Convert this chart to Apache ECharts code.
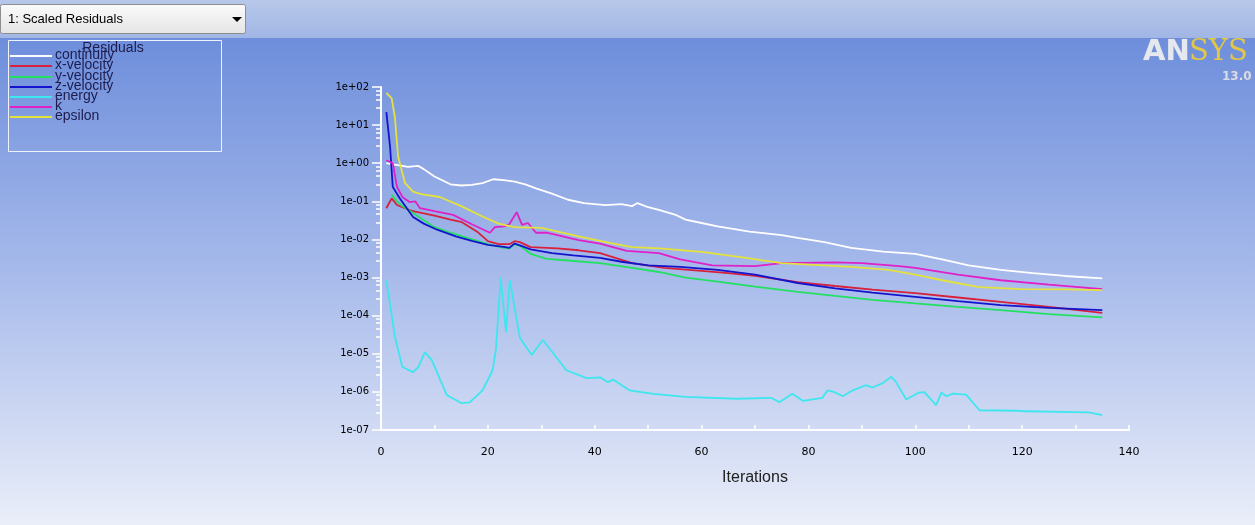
<!DOCTYPE html>
<html>
	<head>
		<meta charset="utf-8">
		<title>Scaled Residuals</title>
		<script src="https://cdn.jsdelivr.net/npm/echarts@6/dist/echarts.min.js"></script>
		<style>
			html,body{margin:0;padding:0;overflow:hidden;}
			#x{width:1255px;height:525px;}
		</style>
	</head>
	<body>
		<div id="x"></div>
	</body>

	<script type="text/javascript">
		// residual histories, [iteration, residual]
		var names=['continuity','x-velocity','y-velocity','z-velocity','energy','k','epsilon'];
		var colors=['#ffffff','#d8203c','#22e060','#1414cc','#3ee6ee','#e020c8','#e4e23c'];

		var continuity=[[1,1.0],[2,0.95],[4,0.85],[5,0.8],[7,0.85],[8,0.7],[10,0.45],[13,0.28],[15,0.26],[17,0.27],[19,0.3],[21,0.38],[23,0.36],[25,0.33],[27,0.28],[29,0.22],[32,0.16],[35,0.11],[38,0.09],[42,0.08],[45,0.085],[47,0.075],[48,0.09],[50,0.07],[52,0.06],[55,0.045],[57,0.033],[60,0.027],[63,0.022],[69,0.016],[75,0.013],[78,0.011],[83,0.0085],[88,0.006],[94,0.0048],[100,0.0042],[105,0.003],[110,0.0021],[116,0.0016],[122,0.0013],[128,0.0011],[135,0.00095]];
		var xVelocity=[[1,0.066],[2,0.12],[3,0.08],[4,0.07],[6,0.055],[10,0.042],[13,0.033],[15,0.029],[18,0.016],[20,0.009],[22,0.0075],[24,0.0075],[25,0.009],[26,0.0085],[28,0.0063],[33,0.0058],[37,0.0052],[41,0.0044],[47,0.0024],[53,0.0018],[60,0.0015],[65,0.0013],[70,0.0011],[78,0.00076],[85,0.0006],[92,0.00048],[100,0.00039],[108,0.0003],[116,0.00023],[125,0.00017],[135,0.000118]];
		var yVelocity=[[2,0.15],[3,0.1],[4,0.075],[5.5,0.055],[8,0.032],[10,0.021],[13,0.015],[17,0.01],[20,0.0075],[23,0.006],[24,0.0058],[25,0.0075],[26,0.0068],[28,0.0042],[31,0.0031],[35,0.0028],[41,0.0024],[47,0.0018],[52,0.0014],[57,0.001],[63,0.00078],[70,0.00058],[78,0.00042],[85,0.00033],[92,0.00026],[100,0.00021],[108,0.00017],[116,0.00014],[125,0.00011],[135,0.00009]];
		var zVelocity=[[1,22],[1.7,2.7],[2.2,0.24],[3.5,0.12],[6,0.039],[8,0.026],[10.5,0.018],[14,0.012],[17,0.0092],[20,0.0072],[23,0.0064],[24,0.006],[25,0.0078],[26,0.007],[28,0.0055],[32,0.0044],[36,0.0038],[41,0.0033],[45,0.0026],[50,0.0021],[56,0.0019],[63,0.0016],[70,0.0012],[78,0.00072],[85,0.00052],[92,0.0004],[100,0.00031],[108,0.00024],[116,0.00019],[125,0.00016],[135,0.00014]];
		var energy=[[1,0.00085],[2.6,0.000028],[4,0.0000045],[6,0.0000033],[7,0.0000045],[8.2,0.000011],[9.5,0.0000068],[12.3,0.00000083],[15,0.00000051],[16.6,0.00000053],[19,0.0000011],[20.9,0.0000037],[21.5,0.0000126],[22.4,0.001],[23.4,0.000037],[24.1,0.00085],[26,0.000026],[28.2,0.0000093],[30.3,0.000023],[34.7,0.0000037],[38.5,0.0000023],[41,0.0000024],[42.5,0.0000018],[43.4,0.0000021],[46.5,0.0000011],[51,0.00000089],[57,0.00000074],[66.5,0.00000066],[73,0.0000007],[74.6,0.00000054],[77,0.0000009],[79,0.00000058],[82.6,0.0000007],[83.6,0.0000011],[84.9,0.00000098],[86.4,0.00000077],[88.3,0.0000011],[90.8,0.0000015],[92,0.0000013],[93.9,0.0000017],[95.5,0.0000025],[96.4,0.0000018],[98.3,0.00000063],[100.7,0.00000096],[101.7,0.00000098],[103.9,0.00000045],[104.9,0.00000096],[105.8,0.00000077],[107,0.0000009],[109.5,0.00000085],[112,0.00000033],[118.9,0.00000032],[120.7,0.00000031],[132.5,0.00000029],[135,0.000000245]];
		var k=[[1,1.2],[2.2,1.0],[3,0.24],[4,0.13],[5.4,0.095],[6.4,0.1],[7.3,0.066],[10,0.055],[13.5,0.044],[17,0.025],[20.4,0.015],[21.3,0.021],[23,0.022],[24,0.025],[25.4,0.052],[26.4,0.024],[27.5,0.027],[29,0.015],[31,0.015],[37,0.0096],[41,0.0078],[46,0.005],[52,0.0044],[56,0.003],[62,0.0021],[70,0.002],[75,0.0024],[85,0.0025],[90,0.0024],[97,0.002],[100,0.0018],[108,0.0012],[116,0.00085],[125,0.00065],[135,0.0005]];
		var epsilon=[[1,70],[2,50],[2.6,16],[3.2,1.5],[4.5,0.3],[6,0.18],[7.5,0.155],[11,0.13],[15,0.075],[19,0.04],[22,0.026],[25,0.021],[30,0.02],[37,0.012],[43,0.008],[47,0.0063],[52,0.0058],[60,0.0047],[67,0.0035],[75,0.0024],[88,0.0019],[95,0.0016],[100,0.0012],[106,0.0008],[112,0.00056],[120,0.0005],[128,0.00049],[135,0.00047]];
		var seriesData=[continuity,xVelocity,yVelocity,zVelocity,energy,k,epsilon];

		var xTicks=[0,140,20];       // min, max, step
		var yRange=[1e-7,1e2];

		function expLabel(v){
			var e=Math.round(Math.log10(v));
			var s=e<0?'-':'+';
			var a=Math.abs(e);
			return '1e'+s+(a<10?'0'+a:a);
		}

		var series=[];
		for(var i=0;i<names.length;i++){
			series.push({
				name:names[i],
				type:'line',
				showSymbol:false,
				animation:false,
				lineStyle:{width:1.8,color:colors[i]},
				data:seriesData[i]
			});
		}

		// legend box drawn by hand so the labels can overlap like the original
		var legendItems=[];
		legendItems.push({type:'rect',shape:{x:8.5,y:40.5,width:213,height:111},style:{fill:'rgba(0,0,0,0)',stroke:'#eef2fa',lineWidth:1}});
		legendItems.push({type:'text',x:113,y:48,style:{text:'Residuals',fill:'#1c1c4e',font:'14px "Liberation Sans"',align:'center',verticalAlign:'middle'}});
		var ly=[56,66,77,87,97,107,117];
		for(var j=0;j<names.length;j++){
			legendItems.push({type:'line',shape:{x1:10,y1:ly[j],x2:52,y2:ly[j]},style:{stroke:colors[j],lineWidth:2}});
			legendItems.push({type:'text',x:55,y:ly[j]-1,style:{text:names[j],fill:'#1c1c4e',font:'14px "Liberation Sans"',verticalAlign:'middle'}});
		}

		var option={
			backgroundColor:{
				type:'linear',x:0,y:0,x2:0,y2:1,
				colorStops:[{offset:0,color:'#6c8bdb'},{offset:0.08,color:'#6f8fdc'},{offset:0.5,color:'#a4b8ea'},{offset:1,color:'#eaeef9'}]
			},
			animation:false,
			grid:{left:381,right:126,top:87,bottom:95},
			xAxis:{
				type:'value',
				min:xTicks[0],max:xTicks[1],interval:xTicks[2],
				name:'Iterations',nameLocation:'middle',nameGap:40,
				nameTextStyle:{color:'#222',fontSize:16,fontFamily:'Liberation Sans'},
				axisLine:{lineStyle:{color:'#ffffff',width:2}},
				axisTick:{inside:true,length:5,lineStyle:{color:'#ffffff',width:1.5}},
				minorTick:{show:true,splitNumber:2,length:5,lineStyle:{color:'#ffffff',width:1.5}},
				axisLabel:{color:'#000',fontSize:11,fontFamily:'DejaVu Sans',margin:17},
				splitLine:{show:false}
			},
			yAxis:{
				type:'log',logBase:10,
				min:yRange[0],max:yRange[1],
				axisLine:{show:true,lineStyle:{color:'#ffffff',width:2}},
				axisTick:{show:true,length:9,lineStyle:{color:'#ffffff',width:1.5}},
				minorTick:{show:true,splitNumber:5,length:5,lineStyle:{color:'#ffffff',width:1.5}},
				axisLabel:{color:'#000',fontSize:10,fontFamily:'DejaVu Sans',margin:12,formatter:expLabel},
				splitLine:{show:false}
			},
			graphic:[
				// top strip and selector
				{type:'rect',shape:{x:0,y:0,width:1255,height:38},style:{fill:{type:'linear',x:0,y:0,x2:0,y2:1,colorStops:[{offset:0,color:'#b8c8ea'},{offset:1,color:'#a0b6e4'}]}},z:0},
				{type:'rect',shape:{x:0.5,y:4.5,width:245,height:29,r:2},style:{fill:{type:'linear',x:0,y:0,x2:0,y2:1,colorStops:[{offset:0,color:'#fbfbfb'},{offset:1,color:'#e4e4e4'}]},stroke:'#8e8e8e'},z:1},
				{type:'text',x:8,y:19,style:{text:'1: Scaled Residuals',fill:'#000',font:'13px "Liberation Sans"',verticalAlign:'middle'},z:2},
				{type:'polygon',shape:{points:[[232,17],[242,17],[237,22]]},style:{fill:'#000'},z:2},
				// logo
				{type:'text',x:1143,y:52,style:{text:'AN',fill:'#e6e8f0',font:'bold 29px "DejaVu Sans"',verticalAlign:'middle',stroke:'#9aa8cc',lineWidth:0.5},z:2},
				{type:'text',x:1189,y:52,style:{text:'SYS',fill:'#e2c648',font:'29px "DejaVu Serif"',verticalAlign:'middle'},z:2},
				{type:'text',x:1222,y:77,style:{text:'13.0',fill:'#d8dce8',font:'bold 12px "DejaVu Sans"',verticalAlign:'middle',stroke:'#8a98c0',lineWidth:0.5},z:2},
				{type:'group',children:legendItems,z:3}
			],
			series:series
		};

		var x5=chart(option,"x");

		function chart(option,id){
			var mychart=echarts.init(document.getElementById(id));
			mychart.setOption(option);
			return mychart;
		}
	</script>
</html>
